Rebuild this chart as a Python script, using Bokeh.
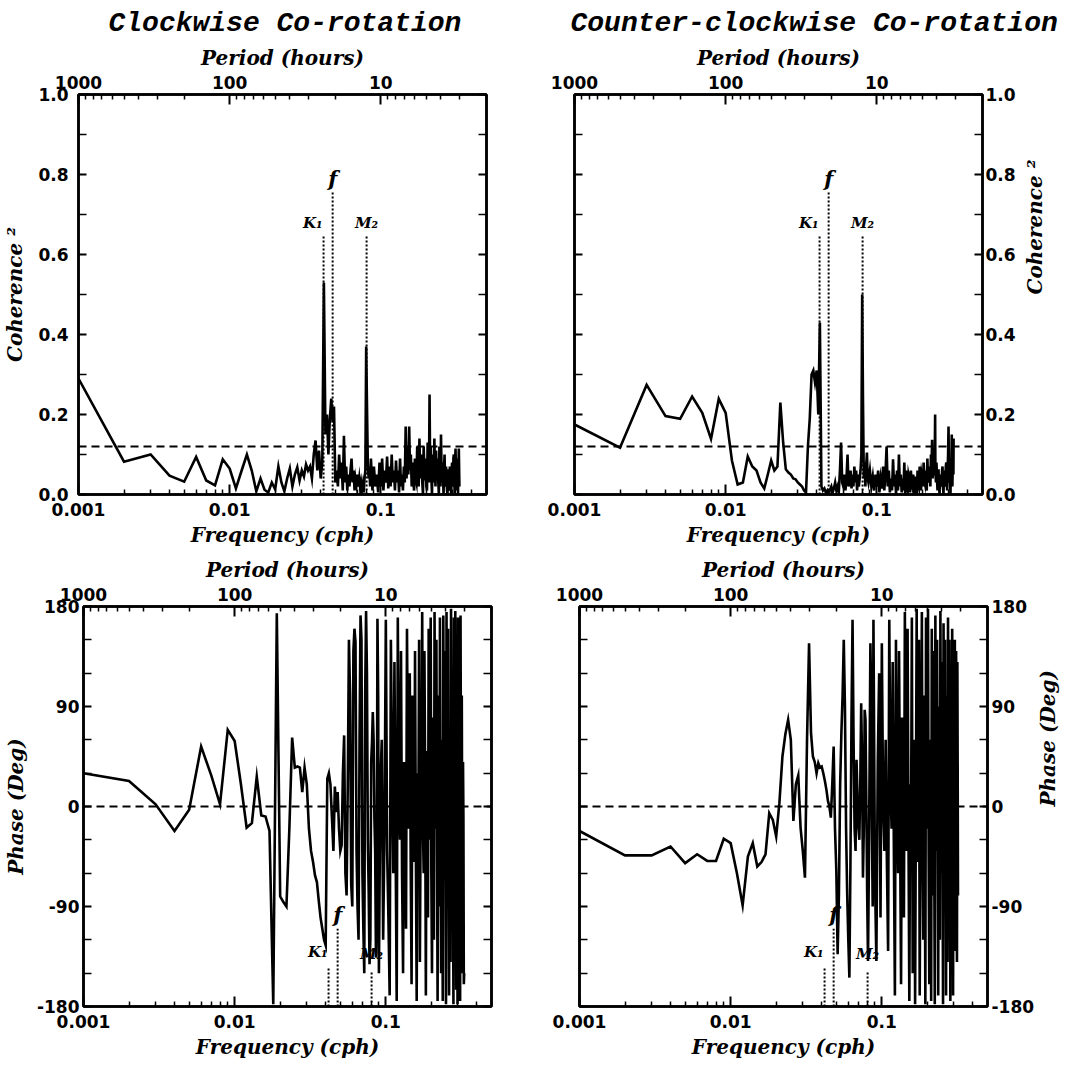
import numpy as np
from bokeh.plotting import figure
from bokeh.models import (Range1d, LogAxis, LinearAxis, FixedTicker,
                          CustomJSTickFormatter, PrintfTickFormatter, Span, Label)
from bokeh.layouts import column, row
from bokeh.embed import file_html
from bokeh.resources import INLINE

# ---------------- data ----------------
titles = ["Clockwise Co-rotation", "Counter-clockwise Co-rotation"]
freq_step_cph = 1e-3   # frequency index k -> k * 0.001 cph

# (frequency index k, coherence^2) clockwise
cw_coherence = [
    (1, 0.29), (2, 0.082), (3, 0.10), (4, 0.047), (5, 0.032), (6, 0.094), (7, 0.035), (8, 0.023),
    (9, 0.088), (10, 0.065), (11, 0.015), (12, 0.06), (13, 0.10), (14, 0.06), (15, 0.008), (16, 0.04),
    (17, 0.012), (18, 0.005), (19, 0.03), (20, 0.013), (21, 0.07), (22, 0.03), (23, 0.008), (24, 0.04),
    (25, 0.065), (26, 0.02), (27, 0.05), (28, 0.068), (29, 0.035), (30, 0.06), (31, 0.045), (32, 0.075),
    (33, 0.06), (34, 0.07), (35, 0.04), (36, 0.10), (37, 0.135), (38, 0.06), (39, 0.11), (40, 0.04),
    (41, 0.08), (42, 0.53), (43, 0.15), (44, 0.20), (45, 0.10), (46, 0.19), (47, 0.24), (48, 0.18),
    (49, 0.22), (50, 0.03), (51, 0.06), (52, 0.02), (53, 0.10), (54, 0.04), (55, 0.08), (56, 0.01),
    (57, 0.147), (58, 0.03), (59, 0.07), (60, 0.01), (61, 0.05), (62, 0.02), (63, 0.06), (64, 0.09),
    (65, 0.03), (66, 0.06), (67, 0.01), (68, 0.04), (69, 0.025), (70, 0.05), (71, 0.02), (72, 0.04),
    (73, 0.015), (74, 0.03), (75, 0.01), (76, 0.025), (77, 0.005), (78, 0.04), (79, 0.06), (80, 0.37),
    (81, 0.22), (82, 0.08), (83, 0.04), (84, 0.06), (85, 0.02),
    (86, 0.09), (88, 0.01), (90, 0.07), (92, 0.02), (94, 0.05), (96, 0.005), (98, 0.08), (100, 0.02),
    (102, 0.09), (104, 0.01), (106, 0.06), (108, 0.03), (110, 0.095), (112, 0.015), (114, 0.07),
    (116, 0.02), (118, 0.10), (120, 0.03), (122, 0.06), (124, 0.01), (126, 0.085), (128, 0.03),
    (130, 0.06), (132, 0.005), (134, 0.09), (136, 0.02), (138, 0.05), (140, 0.01), (142, 0.07),
    (144, 0.03), (146, 0.17), (148, 0.04), (150, 0.12), (152, 0.05), (154, 0.17), (156, 0.06),
    (158, 0.10), (160, 0.02), (162, 0.08), (164, 0.03), (166, 0.01), (168, 0.09), (170, 0.04),
    (172, 0.03), (174, 0.12), (176, 0.05), (178, 0.02), (180, 0.14), (182, 0.06), (184, 0.04),
    (186, 0.10), (188, 0.03), (190, 0.0), (192, 0.12), (194, 0.06), (196, 0.05), (198, 0.09),
    (200, 0.02), (202, 0.01), (204, 0.13), (206, 0.06), (208, 0.03), (210, 0.25), (212, 0.05),
    (214, 0.12), (216, 0.04), (218, 0.0), (220, 0.10), (222, 0.05), (224, 0.03), (226, 0.14),
    (228, 0.06), (230, 0.02), (232, 0.11), (234, 0.05), (236, 0.04), (238, 0.09), (240, 0.03),
    (242, 0.0), (244, 0.12), (246, 0.05), (248, 0.02), (250, 0.15), (252, 0.06), (254, 0.03),
    (256, 0.08), (258, 0.04), (260, 0.0), (262, 0.07), (264, 0.10), (266, 0.03), (268, 0.02),
    (270, 0.07), (272, 0.05), (274, 0.01), (276, 0.0), (278, 0.06), (280, 0.06), (282, 0.02),
    (284, 0.01), (286, 0.07), (288, 0.05), (290, 0.02), (292, 0.0), (294, 0.06), (296, 0.08),
    (298, 0.03), (300, 0.02), (302, 0.09), (304, 0.10), (306, 0.04), (308, 0.0), (310, 0.08),
    (312, 0.115), (314, 0.05), (316, 0.01), (318, 0.07), (320, 0.09), (322, 0.03), (324, 0.0),
    (326, 0.06), (328, 0.115), (330, 0.05), (331, 0.02),
]

# (frequency index k, coherence^2) counter-clockwise
ccw_coherence = [
    (1, 0.175), (2, 0.117), (3, 0.274), (4, 0.196), (5, 0.189), (6, 0.245), (7, 0.204), (8, 0.139),
    (9, 0.239), (10, 0.204), (11, 0.085), (12, 0.025), (13, 0.03), (14, 0.095), (15, 0.07), (16, 0.06),
    (17, 0.03), (18, 0.015), (19, 0.05), (20, 0.085), (21, 0.06), (22, 0.07), (23, 0.23), (24, 0.13),
    (25, 0.063), (26, 0.055), (27, 0.05), (28, 0.04), (29, 0.038), (30, 0.03), (31, 0.025), (32, 0.02),
    (33, 0.01), (34, 0.005), (35, 0.12), (36, 0.19), (37, 0.30), (38, 0.31), (39, 0.28), (40, 0.31),
    (41, 0.20), (42, 0.43), (43, 0.02), (44, 0.01), (45, 0.015), (46, 0.005), (47, 0.01), (48, 0.0),
    (49, 0.012), (50, 0.02), (51, 0.005), (52, 0.015), (53, 0.03), (54, 0.01), (55, 0.02), (56, 0.005),
    (57, 0.06), (58, 0.13), (59, 0.03), (60, 0.02), (61, 0.05), (62, 0.01), (63, 0.04), (64, 0.10),
    (65, 0.02), (66, 0.04), (67, 0.06), (68, 0.015), (69, 0.05), (70, 0.02), (71, 0.07), (72, 0.03),
    (73, 0.06), (74, 0.01), (75, 0.05), (76, 0.02), (77, 0.04), (78, 0.06), (79, 0.10), (80, 0.50),
    (81, 0.23), (82, 0.04), (83, 0.08), (84, 0.02), (85, 0.07), (86, 0.105), (87, 0.04),
    (88, 0.03), (90, 0.06), (92, 0.02), (94, 0.045), (96, 0.01), (98, 0.05), (100, 0.02), (102, 0.06),
    (104, 0.005), (106, 0.04), (108, 0.015), (110, 0.07), (112, 0.01), (114, 0.05), (116, 0.12),
    (118, 0.02), (120, 0.06), (122, 0.005), (124, 0.04), (126, 0.01), (128, 0.088), (130, 0.02),
    (132, 0.05), (134, 0.0), (136, 0.06), (138, 0.01), (140, 0.10), (142, 0.02), (144, 0.05),
    (146, 0.005), (148, 0.04), (150, 0.01), (152, 0.08), (154, 0.0), (156, 0.06), (158, 0.02),
    (160, 0.01), (162, 0.05), (164, 0.04), (166, 0.005), (168, 0.06), (170, 0.03), (172, 0.02),
    (174, 0.05), (176, 0.03), (178, 0.0), (180, 0.045), (182, 0.02), (184, 0.01), (186, 0.06),
    (188, 0.03), (190, 0.02), (192, 0.07), (194, 0.03), (196, 0.01), (198, 0.05), (200, 0.04),
    (202, 0.02), (204, 0.08), (206, 0.04), (208, 0.03), (210, 0.06), (212, 0.02), (214, 0.01),
    (216, 0.09), (218, 0.04), (220, 0.03), (222, 0.07), (224, 0.05), (226, 0.02), (228, 0.10),
    (230, 0.06), (232, 0.137), (234, 0.04), (236, 0.09), (238, 0.05), (240, 0.05), (242, 0.12),
    (243, 0.20), (244, 0.06), (246, 0.03), (248, 0.08), (250, 0.04), (252, 0.01), (254, 0.06),
    (256, 0.06), (258, 0.02), (260, 0.0), (262, 0.04), (264, 0.05), (266, 0.03), (268, 0.02),
    (270, 0.06), (272, 0.07), (274, 0.02), (276, 0.0), (278, 0.05), (280, 0.06), (282, 0.03),
    (284, 0.02), (286, 0.07), (288, 0.08), (290, 0.04), (292, 0.01), (294, 0.06), (296, 0.10),
    (298, 0.17), (300, 0.06), (301, 0.03), (303, 0.09), (305, 0.04), (307, 0.0), (309, 0.07),
    (311, 0.05), (313, 0.15), (315, 0.04), (316, 0.02), (318, 0.08), (319, 0.10), (321, 0.05),
    (322, 0.14),
]

# (frequency index k, phase in degrees) clockwise
cw_phase = [
    (1, 30), (2, 23), (3, 2), (4, -22), (5, -3), (6, 54), (7, 28), (8, 2), (9, 69), (10, 59),
    (11, 20), (12, -19), (13, -15), (14, 27), (15, -8), (16, -9), (17, -22), (18, -178), (19, 174),
    (20, -81), (21, -86), (22, -90), (23, -20), (24, 62), (25, 35), (26, 36), (27, 35), (28, 13),
    (29, 35), (30, 20), (31, -20), (32, -40), (33, -50), (34, -62), (35, -68), (36, -85), (37, -100),
    (38, -110), (39, -120), (40, -125), (41, 25), (42, 30), (43, 20), (44, -10), (45, -40), (46, 18),
    (47, -5), (48, 13), (49, -20), (50, -40), (51, -35), (52, 30), (53, 64), (54, -60), (55, -80),
    (56, 20), (57, 150), (58, 100), (59, -70), (60, -90), (61, 140), (62, 160), (63, 148), (64, -40),
    (65, -91), (66, -120), (67, 60), (68, 172), (69, 150), (70, -60), (71, -110), (72, -150),
    (73, 100), (74, 176), (75, 120), (76, -30), (77, -76), (78, -142), (79, -120), (80, 40),
    (81, 58), (82, 85), (83, 60), (84, -10), (85, -40), (86, -136), (87, -100), (88, 169), (89, 100),
    (90, -150), (92, 20), (94, 60), (96, -120), (98, -20), (100, 168), (102, -40), (104, -100),
    (106, -170), (108, 150), (110, 30), (112, -60), (114, 130), (116, -30), (118, -175), (120, 170),
    (122, 10), (124, -30), (126, 140), (128, -60), (130, -150), (132, 40), (134, -20), (136, -110),
    (138, 160), (140, 30), (142, -20), (144, 120), (146, -50), (148, -160), (150, 100), (152, 10),
    (154, -50), (156, 140), (158, -40), (160, -175), (162, 30), (164, -30), (166, 150), (168, -140),
    (170, 0), (172, 20), (174, 175), (176, -20), (178, -60), (180, 140), (182, 20), (184, -170),
    (186, 50), (188, -40), (190, -100), (192, 160), (194, 10), (196, -30), (198, 170), (200, -60),
    (202, -150), (204, 80), (206, -10), (208, -120), (210, 175), (212, 30), (214, -20), (216, 150),
    (218, -40), (220, -175), (222, 100), (224, 0), (226, -90), (228, 170), (230, -20), (232, -150),
    (234, 60), (236, -30), (238, -175), (240, 172), (242, 20), (244, -60), (246, 140), (248, -40),
    (250, -178), (252, 175), (254, 10), (256, -20), (258, 160), (260, -50), (262, -170), (264, 40),
    (266, -10), (268, -140), (270, 178), (272, 20), (274, -80), (276, 120), (278, -30), (280, -178),
    (282, 170), (284, 0), (286, -30), (288, 176), (290, -60), (292, -165), (294, 90), (296, 10),
    (298, -178), (300, 170), (302, 30), (304, -100), (306, 150), (308, -20), (310, -175), (312, 172),
    (314, 20), (316, -60), (318, 100), (320, -30), (322, -150), (324, 40), (326, -10), (328, -160),
    (330, -150),
]

# (frequency index k, phase in degrees) counter-clockwise
ccw_phase = [
    (1, -22), (2, -44), (3, -44), (4, -36), (5, -51), (6, -43), (7, -49), (8, -49), (9, -29),
    (10, -33), (11, -60), (12, -89), (13, -45), (14, -33), (15, -54), (16, -50), (17, -43), (18, -6),
    (19, -12), (20, -27), (21, 3), (22, 45), (23, 65), (24, 78), (25, 60), (26, -13), (27, 20),
    (28, 28), (29, -19), (30, -40), (31, -64), (32, 60), (33, 147), (34, 66), (35, 45), (36, 40),
    (37, 30), (38, 39), (39, 35), (40, 36), (41, 30), (42, 23), (43, 15), (44, 5), (45, 0),
    (46, -10), (47, 20), (48, 54), (49, -20), (50, -58), (51, -133), (52, -80), (53, 20), (54, 66),
    (55, 100), (56, 150), (57, 90), (58, -20), (59, -79), (60, -120), (61, -154), (62, -50), (63, 80),
    (64, 168), (65, 60), (66, -19), (67, -40), (68, 42), (69, 10), (70, -19), (71, -30), (72, 20),
    (73, 93), (74, 40), (75, -64), (76, -20), (77, 87), (78, 78), (79, 0), (80, -80), (81, -139),
    (82, -60), (83, 40), (84, 147), (85, 100), (86, -20), (87, -90),
    (88, 168), (90, -60), (92, -139), (94, 40), (96, 120), (98, -100), (100, 147), (102, 0),
    (104, -40), (106, 60), (108, -50), (110, -130), (112, 168), (114, 20), (116, -20), (118, 130),
    (120, -30), (122, -170), (124, 150), (126, 10), (128, -60), (130, 140), (132, -20), (134, -160),
    (136, 80), (138, 0), (140, -100), (142, 175), (144, 30), (146, -40), (148, 160), (150, -20),
    (152, -175), (154, 20), (156, -30), (158, 170), (160, -150), (162, 20), (164, 60), (166, -178),
    (168, 0), (170, 178), (172, -50), (174, 30), (176, 150), (178, -170), (180, -20), (182, 40),
    (184, 175), (186, -40), (188, -120), (190, 100), (192, 10), (194, -178), (196, 170), (198, 30),
    (200, -20), (202, 178), (204, -40), (206, -160), (208, 60), (210, -10), (212, -175), (214, 160),
    (216, 20), (218, -80), (220, 140), (222, -30), (224, -178), (226, 172), (228, 10), (230, -40),
    (232, 150), (234, -20), (236, -170), (238, 90), (240, 0), (242, -120), (244, 176), (246, 20),
    (248, -60), (250, 130), (252, -30), (254, -178), (256, 165), (258, 20), (260, -30), (262, 150),
    (264, -40), (266, -170), (268, 100), (270, 0), (272, -140), (274, 170), (276, 10), (278, -80),
    (280, 150), (282, -20), (284, -175), (286, 120), (288, 20), (290, -40), (292, 160), (294, -30),
    (296, -170), (298, 80), (300, -10), (302, -130), (304, 150), (306, -20), (308, -100), (310, 140),
    (312, -10), (314, -140), (316, 130), (318, 0), (319, -80),
]

coherence_threshold = 0.12
phase_reference = 0.0

tide_names = ["K\u2081", "f", "M\u2082"]
tide_freqs = [0.0418, 0.048, 0.0805]
coh_line_top = [0.65, 0.755, 0.65]
coh_label_y = [0.68, 0.79, 0.68]
phase_line_top = [-145, -110, -148]
phase_label_y = [-131, -97, -133]

freq_ticks = [0.001, 0.01, 0.1]
freq_minor = [0.002, 0.003, 0.004, 0.005, 0.006, 0.007, 0.008, 0.009,
              0.02, 0.03, 0.04, 0.05, 0.06, 0.07, 0.08, 0.09,
              0.2, 0.3, 0.4, 0.5]
period_minor_hours = [900, 800, 700, 600, 500, 400, 300, 200,
                      90, 80, 70, 60, 50, 40, 30, 20,
                      9, 8, 7, 6, 5, 4, 3, 2]
coh_ticks = [0.0, 0.2, 0.4, 0.6, 0.8, 1.0]
coh_minor = [0.1, 0.3, 0.5, 0.7, 0.9]
phase_ticks = [-180, -90, 0, 90, 180]
phase_minor = [-150, -120, -60, -30, 30, 60, 120, 150]

# ---------------- styling ----------------
FW, FH = 408, 400
TICK_FONT = "DejaVu Sans"
LABEL_FONT = "DejaVu Serif"
TITLE_FONT = "Liberation Mono"


def style_axis(ax, horizontal):
    ax.axis_line_width = 2.5
    ax.axis_line_color = "black"
    ax.major_tick_line_width = 2
    ax.minor_tick_line_width = 1.5
    ax.major_tick_line_color = "black"
    ax.minor_tick_line_color = "black"
    ax.major_tick_out = 0
    ax.minor_tick_out = 0
    if horizontal:
        ax.major_tick_in = 10
        ax.minor_tick_in = 5
    else:
        ax.major_tick_in = 8
        ax.minor_tick_in = 8
    ax.major_label_text_font = TICK_FONT
    ax.major_label_text_font_style = "bold"
    ax.major_label_text_font_size = "17px"
    ax.major_label_text_color = "black"
    ax.axis_label_text_font = LABEL_FONT
    ax.axis_label_text_font_style = "bold italic"
    ax.axis_label_text_font_size = "20px"
    ax.axis_label_text_color = "black"


def make_panel(series, is_coh, on_right, title=None, title_offset=0):
    ylo, yhi = (0.0, 1.0) if is_coh else (-180.0, 180.0)
    p = figure(
        frame_width=FW, frame_height=FH,
        x_axis_type="log", x_range=Range1d(0.001, 0.5), y_range=Range1d(ylo, yhi),
        output_backend="svg", toolbar_location=None,
        y_axis_location="right" if on_right else "left",
        min_border_left=58 if on_right else 76,
        min_border_right=79 if on_right else 30,
        min_border_top=94 if is_coh else 56,
        min_border_bottom=56 if is_coh else 54,
        background_fill_color="white", border_fill_color="white",
        outline_line_color="black", outline_line_width=2.5,
        title=title,
    )
    p.grid.visible = False

    if title is not None:
        p.title.text_font = TITLE_FONT
        p.title.text_font_style = "bold italic"
        p.title.text_font_size = "28px"
        p.title.text_color = "black"
        p.title.align = "left"
        p.title.offset = title_offset
        if "standoff" in p.title.properties():
            p.title.standoff = 8

    # bottom frequency axis
    xb = p.below[0]
    xb.ticker = FixedTicker(ticks=freq_ticks, minor_ticks=freq_minor)
    xb.formatter = CustomJSTickFormatter(code="return tick.toString();")
    xb.axis_label = "Frequency (cph)"
    style_axis(xb, True)
    xb.major_label_standoff = 8
    xb.axis_label_standoff = 4

    # top period axis
    period_minor = [1.0 / h for h in period_minor_hours]
    xt = LogAxis(ticker=FixedTicker(ticks=freq_ticks, minor_ticks=period_minor),
                 formatter=CustomJSTickFormatter(code="return String(Math.round(1 / tick));"),
                 axis_label="Period (hours)")
    style_axis(xt, True)
    xt.major_label_standoff = 6
    xt.axis_label_standoff = 3
    p.add_layout(xt, "above")

    # y axes
    ticks = coh_ticks if is_coh else phase_ticks
    minor = coh_minor if is_coh else phase_minor
    ymain = p.yaxis[0]
    ymain.ticker = FixedTicker(ticks=ticks, minor_ticks=minor)
    ymain.formatter = PrintfTickFormatter(format="%.1f" if is_coh else "%d")
    ymain.axis_label = "Coherence \u00b2" if is_coh else "Phase (Deg)"
    style_axis(ymain, False)
    if on_right:
        ymain.major_label_standoff = 3 if is_coh else 4
        ymain.axis_label_standoff = 16 if is_coh else 11
        if "axis_label_orientation" in ymain.properties():
            ymain.axis_label_orientation = np.pi / 2
    else:
        ymain.major_label_standoff = 10 if is_coh else 4
        ymain.axis_label_standoff = 8 if is_coh else 6

    other = LinearAxis(ticker=FixedTicker(ticks=ticks, minor_ticks=minor),
                       formatter=CustomJSTickFormatter(code="return '';"))
    style_axis(other, False)
    other.major_label_standoff = 0
    other.axis_label_standoff = 0
    p.add_layout(other, "left" if on_right else "right")

    # reference dashed line
    p.add_layout(Span(location=coherence_threshold if is_coh else phase_reference,
                      dimension="width", line_color="black", line_width=2.2, line_dash="8 5"))

    # tidal / inertial frequency markers
    tops = coh_line_top if is_coh else phase_line_top
    label_ys = coh_label_y if is_coh else phase_label_y
    p.segment(x0=tide_freqs, y0=[ylo] * len(tide_freqs), x1=tide_freqs, y1=tops,
              line_color="black", line_width=2, line_dash="2 2")
    for name, fr, ly in zip(tide_names, tide_freqs, label_ys):
        is_k = name.startswith("K")
        p.add_layout(Label(x=fr, y=ly, text=name,
                           text_align="right" if is_k else "center",
                           x_offset=-1 if is_k else 0,
                           text_baseline="middle",
                           text_font=LABEL_FONT, text_font_style="bold italic",
                           text_font_size="21px" if name == "f" else "15px",
                           text_color="black"))

    # data line
    f = np.array([k for k, _ in series], dtype=float) * freq_step_cph
    v = np.array([val for _, val in series], dtype=float)
    p.line(f, v, line_color="black", line_width=2.6, line_join="miter")
    return p


tl = make_panel(cw_coherence, True, False, title=titles[0], title_offset=30)
tr = make_panel(ccw_coherence, True, True, title=titles[1], title_offset=-4)
bl = make_panel(cw_phase, False, False)
br = make_panel(ccw_phase, False, True)

layout = column(row(tl, tr), row(bl, br))

open("out.html", "w").write(file_html(layout, INLINE, "Co-rotation coherence and phase"))
